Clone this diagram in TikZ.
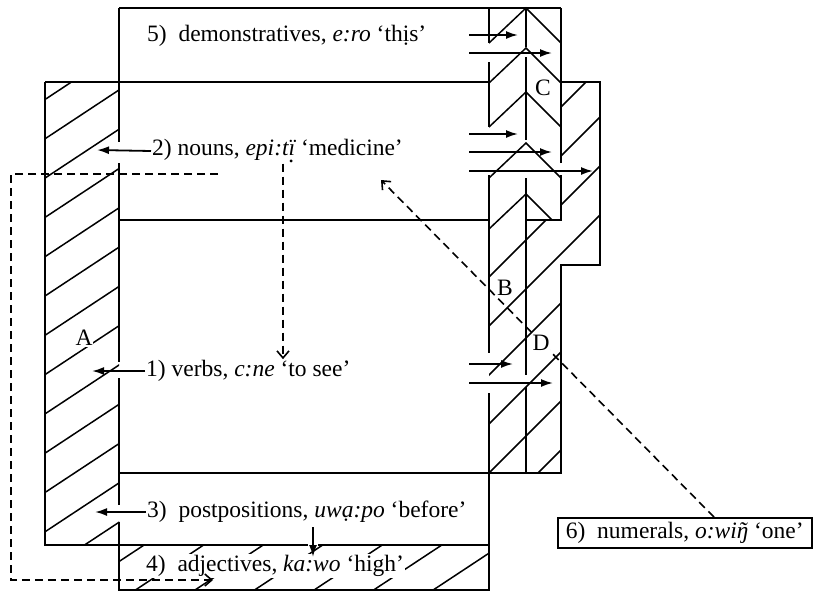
\documentclass[tikz,border=0pt]{standalone}
\usepackage{fontspec}
\setmainfont{Liberation Serif}
\usetikzlibrary{arrows.meta}

\newcommand{\dotbelow}[1]{\ooalign{#1\cr\hidewidth\raisebox{-0.27em}{.}\hidewidth}}
\newcommand{\tilove}[1]{\ooalign{#1\cr\hidewidth\char"02DC\hidewidth}}

\tikzset{
  wall/.style={line width=1.8pt},
  hatch/.style={line width=1.5pt},
  lab/.style={font=\fontsize{23.5}{28}\selectfont, inner sep=1pt},
  arr/.style={line width=1.8pt, -{Latex[length=12pt,width=8pt]}},
  darr/.style={line width=1.6pt, dash pattern=on 8pt off 5pt, -{Straight Barb[length=7pt,width=12pt]}},
}

\begin{document}
\begin{tikzpicture}[x=1pt,y=-1pt]
	\useasboundingbox (0,0) rectangle (820,592);

	% hatching of column A and the adjectives box
	\begin{scope}
		\clip (45,82) rectangle (119,545) (119,545) rectangle (489,590);
		\foreach \k in {-1,...,19}
			\draw[hatch] (30,{168.5+39.3*\k-0.66*30}) -- (500,{168.5+39.3*\k-0.66*500});
	\end{scope}

	% hatching of columns B and D and the right block
	\begin{scope}
		\clip (489,229) -- (526,193) -- (526,220) -- (561,220) -- (561,82) -- (600,82)
			-- (600,265) -- (561,265) -- (561,473) -- (489,473) -- cycle;
		\foreach \c in {668,717,...,1060}
			\draw[hatch] (470,{\c-470}) -- (620,{\c-620});
	\end{scope}

	% chevrons of column C
	\foreach \a in {8,48,92,143}
		\draw[hatch] (489,\a+35) -- (526,\a) -- (561,\a+35);
	\draw[hatch] (489,229) -- (526,194) -- (552,220);

	% walls
	\draw[wall] (119,8) -- (561,8);
	\draw[wall] (119,8) -- (119,142) (119,163) -- (119,362) (119,378) -- (119,505)
		(119,522) -- (119,590) -- (489,590) -- (489,393);
	\draw[wall] (45,82) -- (489,82) (561,82) -- (600,82) -- (600,265) -- (561,265)
		-- (561,473) -- (119,473);
	\draw[wall] (45,82) -- (45,545) -- (308,545) (318,545) -- (489,545);
	\draw[wall] (119,220) -- (489,220) (526,220) -- (561,220) -- (561,175) (561,163) -- (561,8);
	\draw[wall] (489,8) -- (489,43) (489,62) -- (489,127) (489,175) -- (489,353);
	\draw[wall] (526,8) -- (526,47) (526,57) -- (526,140) (526,178) -- (526,375) (526,387) -- (526,473);

	% word classes
	\node[lab, anchor=west] (demo) at (146,36) {5)\ \ demonstratives, \textit{e:ro} ‘thịs’};
	\node[lab, anchor=west] (noun) at (151,151) {2) nouns, \textit{epi:t\dotbelow{ï}} ‘medicine’};
	\node[lab, anchor=west] (verb) at (145,371) {1) verbs, \textit{c:ne} ‘to see’};
	\node[lab, anchor=west] (post) at (146,512) {3)\ \ postpositions, \textit{uwạ:po} ‘before’};
	\node[lab, anchor=west, fill=white] (adj) at (145,566) {4)\ \ adjectives, \textit{ka:wo} ‘high’};
	\node[lab, wall, draw, anchor=west, inner xsep=8pt, minimum height=30pt] (num) at (557,533)
		{6)\ \ numerals, \textit{o:wi\tilove{ŋ}} ‘one’};

	% arrows to the left
	\coordinate (nounT) at (97,150);
	\coordinate (verbT) at (92,371);
	\coordinate (postT) at (95,512);
	\draw[arr] (noun.west) -- (nounT);
	\draw[arr] (verb.west) -- (verbT);
	\draw[arr] (post.west) -- (postT);
	\coordinate (pa) at (313,527);
	\coordinate (pb) at (313,557);
	\draw[arr] (pa) -- (pb);

	% arrows to the right
	\foreach \y/\xe [count=\i] in {35/518, 53/552, 134/518, 152/552, 171/593, 364/513, 383/553} {
		\coordinate (s\i) at (469,\y);
		\coordinate (e\i) at (\xe,\y);
		\draw[arr] (s\i) -- (e\i);
	}

	% dashed links
	\coordinate (dn0) at (218,174);
	\coordinate (dn1) at (11,174);
	\coordinate (dn2) at (11,580);
	\coordinate (dn3) at (213,580);
	\draw[darr] (dn0) -- (dn1) -- (dn2) -- (dn3);
	\coordinate (dvx) at (283,0);
	\draw[darr] (noun.south -| dvx) -- (verb.north -| dvx);
	\coordinate (numx) at (714,0);
	\coordinate (numT) at (381,180);
	\draw[darr] (num.north -| numx) -- (numT);

	% column letters
	\node[lab, fill=white] (lA) at (84,338) {A};
	\node[lab] (lB) at (505,288) {B};
	\node[lab] (lC) at (543,88) {C};
	\node[lab, fill=white] (lD) at (541,343) {D};
\end{tikzpicture}
\end{document}
